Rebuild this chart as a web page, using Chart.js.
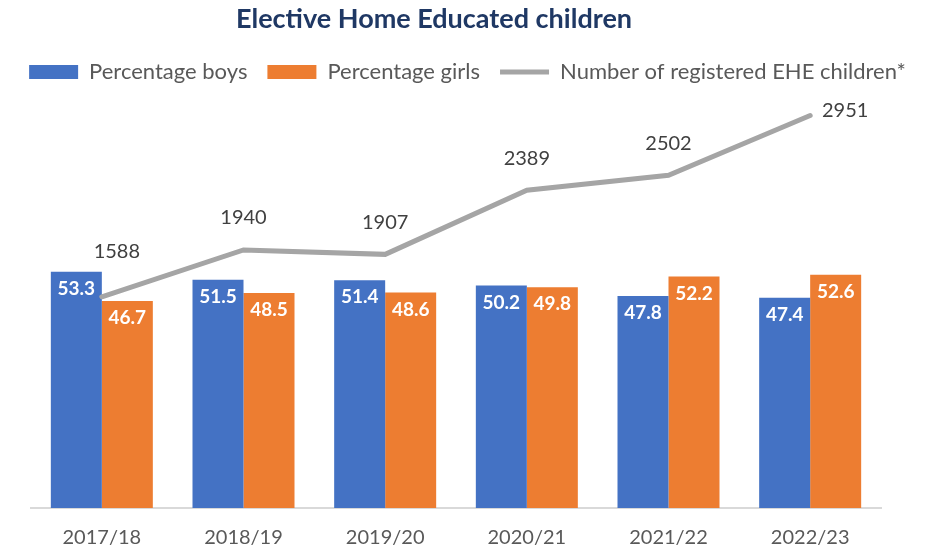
<!DOCTYPE html>
<html>
<head>
<meta charset="utf-8">
<script src="https://cdn.jsdelivr.net/npm/chart.js@4"></script>
<style>
  body { margin: 0; background: #fff; }
  #wrap { width: 935px; height: 549px; }
</style>
</head>
<body>
<div id="wrap"><canvas id="eheChart" width="935" height="549"></canvas></div>
<script>
const years = ['2017/18', '2018/19', '2019/20', '2020/21', '2021/22', '2022/23'];
const boysPct = [53.3, 51.5, 51.4, 50.2, 47.8, 47.4];
const girlsPct = [46.7, 48.5, 48.6, 49.8, 52.2, 52.6];
const registeredEHE = [1588, 1940, 1907, 2389, 2502, 2951];

const FONT = 'Lato, "Open Sans", sans-serif';

// title drawn by hand so it can sit left of centre like the original
const titlePlugin = {
    id: 'ownTitle',
    afterDraw(chart) {
        const ctx = chart.ctx;
        ctx.save();
        ctx.font = 'bold 27px ' + FONT;
        ctx.fillStyle = '#1f3864';
        ctx.textAlign = 'center';
        ctx.textBaseline = 'middle';
        ctx.fillText('Elective Home Educated children', 434, 19);
        ctx.restore();
    }
};

// extra room under the legend
const legendGap = {
    id: 'legendGap',
    beforeInit(chart) {
        const fit = chart.legend.fit;
        chart.legend.fit = function() {
            fit.bind(chart.legend)();
            this.height += 16;
        };
    }
};

// value labels for bars and line
const valueLabels = {
    id: 'valueLabels',
    afterDatasetsDraw(chart) {
        const ctx = chart.ctx;
        ctx.save();
        ctx.textAlign = 'center';
        ctx.textBaseline = 'middle';
        chart.data.datasets.forEach((ds, i) => {
            const meta = chart.getDatasetMeta(i);
            meta.data.forEach((el, j) => {
                const v = ds.data[j];
                if (ds.type === 'line') {
                    ctx.font = '20px ' + FONT;
                    ctx.fillStyle = '#404040';
                    let x = el.x, y = el.y - 32;
                    if (j === 0) { x = el.x + 15; y = el.y - 45; }
                    if (j === ds.data.length - 1) { x = el.x + 35; y = el.y - 5; }
                    ctx.fillText(String(v), x, y);
                } else {
                    ctx.font = 'bold 19px ' + FONT;
                    ctx.fillStyle = '#ffffff';
                    ctx.fillText(v.toFixed(1), el.x, el.y + 17);
                }
            });
        });
        ctx.restore();
    }
};

const ctx = document.getElementById('eheChart');

new Chart(ctx, {
    data: {
        labels: years,
        datasets: [
            {
                type: 'bar',
                label: 'Percentage boys',
                data: boysPct,
                backgroundColor: '#4472c4',
                borderWidth: 0,
                pointStyle: 'rect',
                yAxisID: 'y',
                order: 1
            },
            {
                type: 'bar',
                label: 'Percentage girls',
                data: girlsPct,
                backgroundColor: '#ed7d31',
                borderWidth: 0,
                pointStyle: 'rect',
                yAxisID: 'y',
                order: 2
            },
            {
                type: 'line',
                label: 'Number of registered EHE children*',
                data: registeredEHE,
                borderColor: '#a5a5a5',
                backgroundColor: '#a5a5a5',
                borderWidth: 5,
                borderCapStyle: 'round',
                pointRadius: 0,
                pointStyle: 'line',
                tension: 0,
                yAxisID: 'y1',
                order: 0
            }
        ]
    },
    options: {
        responsive: false,
        animation: false,
        layout: { padding: { top: 41, bottom: 0, left: 0, right: 0 } },
        datasets: {
            bar: { categoryPercentage: 0.72, barPercentage: 1 }
        },
        plugins: {
            title: { display: false },
            tooltip: { enabled: false },
            legend: {
                position: 'top',
                labels: {
                    sort: (a, b) => a.datasetIndex - b.datasetIndex,
                    usePointStyle: true,
                    pointStyleWidth: 49,
                    boxHeight: 14,
                    padding: 20,
                    color: '#595959',
                    font: { family: FONT, size: 22 }
                }
            }
        },
        scales: {
            x: {
                grid: { display: false, drawTicks: false },
                border: { display: true, color: '#d9d9d9', width: 2 },
                ticks: {
                    padding: 18,
                    color: '#595959',
                    font: { family: FONT, size: 20 }
                },
                afterFit(scale) { scale.height = 41; }
            },
            y: {
                position: 'left',
                min: 0,
                max: 90,
                ticks: { display: false },
                grid: { display: false },
                border: { display: false },
                afterFit(scale) { scale.width = 31; }
            },
            y1: {
                position: 'right',
                min: 0,
                max: 3000,
                ticks: { display: false },
                grid: { display: false },
                border: { display: false },
                afterFit(scale) { scale.width = 54; }
            }
        }
    },
    plugins: [legendGap, valueLabels, titlePlugin]
});
</script>
</body>
</html>
